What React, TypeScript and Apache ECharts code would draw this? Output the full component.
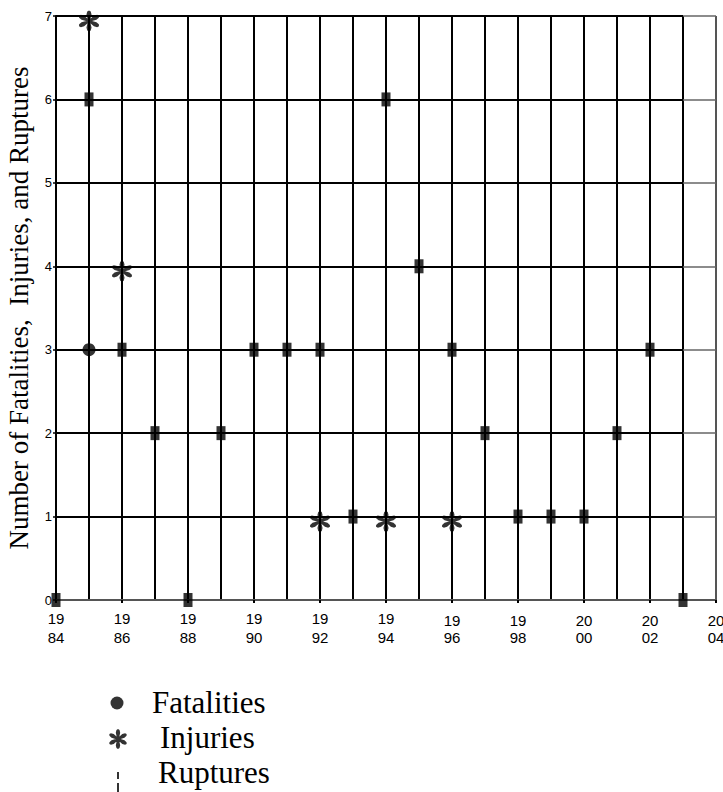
import React, { useEffect, useRef } from "react";
import * as echarts from "echarts";

// ---- data ----
const years = [1984, 1985, 1986, 1987, 1988, 1989, 1990, 1991, 1992, 1993, 1994, 1995, 1996, 1997, 1998, 1999, 2000, 2001, 2002, 2003];
const ruptures = [0, 6, 3, 2, 0, 2, 3, 3, 3, 1, 6, 4, 3, 2, 1, 1, 1, 2, 3, 0];
const fatalityYears = [1985];
const fatalities = [3];
const injuryYears = [1985, 1986, 1992, 1994, 1996];
const injuries = [7, 4, 1, 1, 1];
const yGridValues = [1, 2, 3, 4, 5, 6, 7];
const xMin = 1984;
const xMax = 2004;
const lastGridYear = 2003;

const serif = "Liberation Serif";
const sans = "Liberation Sans";

function asteriskPath(cx: number, cy: number, R: number, box: number): string {
  let d = `M0 0M${box} ${box}`;
  for (let k = 0; k < 6; k++) {
    const a = ((90 + 60 * k) * Math.PI) / 180;
    const dx = Math.cos(a);
    const dy = -Math.sin(a);
    const px = -dy;
    const py = dx;
    const w0 = R * 0.08;
    const w1 = R * 0.22;
    const pts = [
      [cx + px * w0, cy + py * w0],
      [cx + dx * R * 0.62 + px * w1, cy + dy * R * 0.62 + py * w1],
      [cx + dx * R * 0.9 + px * w1 * 0.7, cy + dy * R * 0.9 + py * w1 * 0.7],
      [cx + dx * R, cy + dy * R],
      [cx + dx * R * 0.9 - px * w1 * 0.7, cy + dy * R * 0.9 - py * w1 * 0.7],
      [cx + dx * R * 0.62 - px * w1, cy + dy * R * 0.62 - py * w1],
      [cx - px * w0, cy - py * w0],
    ];
    d += "M" + pts.map((p) => p[0].toFixed(2) + " " + p[1].toFixed(2)).join("L") + "Z";
  }
  return "path://" + d;
}

const asteriskSymbol = asteriskPath(50, 50, 48, 100);
const legendCircle = "path://M0 0M44 44M28.5 23A6.5 6.5 0 1 1 15.5 23A6.5 6.5 0 1 1 28.5 23Z";
const legendAsterisk = asteriskPath(23, 24, 10, 44);
const legendDash = "path://M0 0M44 44M22 22h2v7h-2zM22 33h2v9h-2z";

export default function App() {
  const ref = useRef<HTMLDivElement>(null);

  useEffect(() => {
    if (!ref.current) return;
    const chart = echarts.init(ref.current, undefined, { renderer: "svg" });

    const gridLines: any[] = [];
    yGridValues.forEach((v) => {
      gridLines.push([
        { coord: [xMin, v], lineStyle: { color: "#000", width: 2, type: "solid" } },
        { coord: [lastGridYear, v] },
      ]);
      gridLines.push([
        { coord: [lastGridYear, v], lineStyle: { color: "#666", width: 1.5, type: "solid" } },
        { coord: [xMax, v] },
      ]);
    });

    const evenLineColors = [] as string[];
    for (let y = xMin; y <= xMax; y += 2) evenLineColors.push(y === xMax ? "#555" : "#000");

    chart.setOption({
      animation: false,
      backgroundColor: "#fff",
      grid: { left: 56, right: 7, top: 16, bottom: 192, containLabel: false, outerBoundsMode: "none" },
      legend: {
        orient: "vertical",
        left: 95,
        top: 680,
        height: 240,
        padding: 0,
        itemWidth: 44,
        itemHeight: 44,
        itemGap: -9,
        selectedMode: false,
        textStyle: { fontFamily: serif, fontSize: 31, color: "#000" },
        data: [
          { name: "Fatalities", icon: legendCircle, textStyle: { padding: [0, 0, 0, 8] } },
          { name: "Injuries", icon: legendAsterisk, textStyle: { padding: [0, 0, 0, 16] } },
          { name: "Ruptures", icon: legendDash, textStyle: { padding: [0, 0, 0, 14] } },
        ],
      },
      xAxis: {
        type: "value",
        min: xMin,
        max: xMax,
        interval: 2,
        axisLine: { show: true, lineStyle: { color: "#555", width: 2 } },
        axisTick: { show: true, length: 3, lineStyle: { color: "#000", width: 2 } },
        minorTick: { show: false, splitNumber: 2 },
        splitLine: { show: true, lineStyle: { color: evenLineColors, width: 2 } },
        minorSplitLine: { show: true, lineStyle: { color: "#000", width: 2 } },
        axisLabel: {
          margin: 9,
          color: "#000",
          fontFamily: sans,
          fontSize: 15,
          lineHeight: 19,
          formatter: (v: number) => {
            const s = String(v);
            const a = s.slice(0, 2);
            const b = s.slice(2);
            return v >= 1996 ? `{lo|${a}}\n${b}` : `${a}\n${b}`;
          },
          rich: {
            lo: { padding: [4, 0, 0, 0], fontFamily: sans, fontSize: 15, lineHeight: 19, color: "#000" },
          },
        },
      },
      yAxis: {
        type: "value",
        min: 0,
        max: 7,
        interval: 1,
        name: "Number of Fatalities,  Injuries, and Ruptures",
        nameLocation: "middle",
        nameRotate: 90,
        nameGap: 24,
        nameTextStyle: { fontFamily: serif, fontSize: 27, color: "#000" },
        axisLine: { show: true, lineStyle: { color: "#000", width: 2 } },
        axisTick: { show: true, length: 3, lineStyle: { color: "#000", width: 1.5 } },
        splitLine: { show: false },
        axisLabel: { margin: 4, color: "#000", fontFamily: sans, fontSize: 13 },
      },
      series: [
        {
          name: "gridlines",
          type: "scatter",
          data: [],
          z: 1,
          silent: true,
          markLine: {
            silent: true,
            symbol: ["none", "none"],
            label: { show: false },
            animation: false,
            data: gridLines,
          },
        },
        {
          name: "Fatalities",
          type: "scatter",
          z: 3,
          symbol: "circle",
          symbolSize: 13,
          itemStyle: { color: "#000" },
          data: fatalityYears.map((y, i) => [y, fatalities[i]]),
        },
        {
          name: "Injuries",
          type: "scatter",
          z: 3,
          symbol: asteriskSymbol,
          symbolSize: [24, 22],
          symbolOffset: [0, 5],
          itemStyle: { color: "#000" },
          data: injuryYears.map((y, i) => [y, injuries[i]]),
        },
        {
          name: "Ruptures",
          type: "scatter",
          z: 3,
          symbol: "rect",
          symbolSize: [9, 14],
          itemStyle: { color: "#000" },
          data: years.map((y, i) => [y, ruptures[i]]),
        },
      ],
    });

    return () => chart.dispose();
  }, []);

  return (
    <div
      ref={ref}
      style={{ position: "fixed", left: 0, top: 0, width: 723, height: 792, background: "#fff" }}
    />
  );
}
